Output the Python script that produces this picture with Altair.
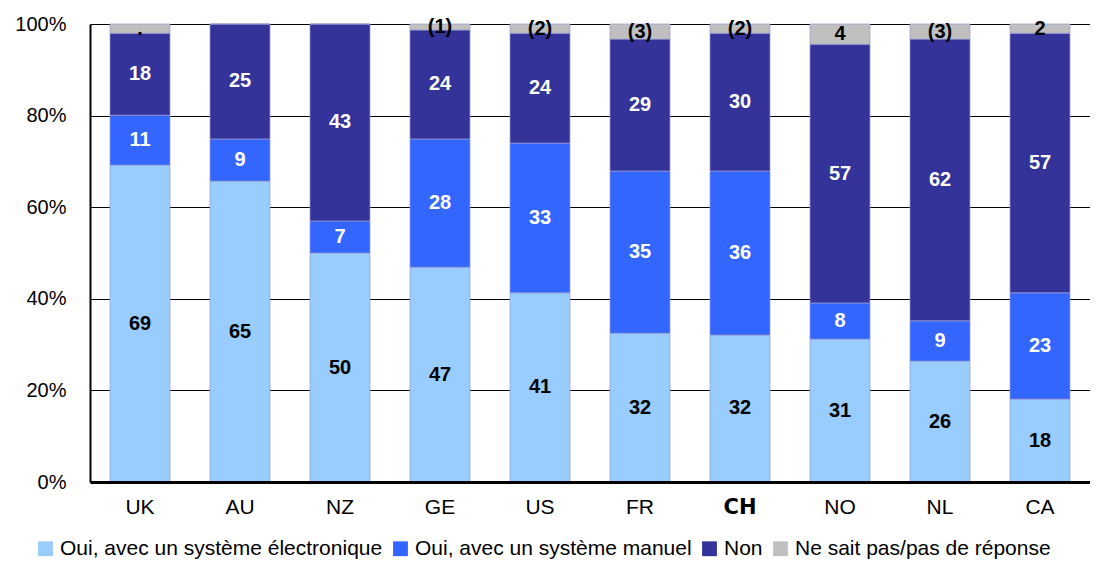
import altair as alt
import pandas as pd

countries = ["UK", "AU", "NZ", "GE", "US", "FR", "CH", "NO", "NL", "CA"]
series = ["Oui, avec un système électronique", "Oui, avec un système manuel",
          "Non", "Ne sait pas/pas de réponse"]
colors = ["#99CCFF", "#3366FF", "#333399", "#C0C0C0"]

electronic = [69.2, 65.7, 50.0, 46.9, 41.3, 32.5, 32.1, 31.2, 26.4, 18.1]
manual = [10.9, 9.2, 7.0, 28.0, 32.7, 35.4, 35.8, 7.9, 8.8, 23.2]
non = [17.9, 25.1, 43.0, 23.8, 24.0, 28.8, 30.1, 56.5, 61.5, 56.7]
dk = [2.0, 0.0, 0.0, 1.3, 2.0, 3.3, 2.0, 4.4, 3.3, 2.0]

lab_el = ["69", "65", "50", "47", "41", "32", "32", "31", "26", "18"]
lab_man = ["11", "9", "7", "28", "33", "35", "36", "8", "9", "23"]
lab_non = ["18", "25", "43", "24", "24", "29", "30", "57", "62", "57"]
lab_dk = [".", "", "", "(1)", "(2)", "(3)", "(2)", "4", "(3)", "2"]

rows = []
for i, c in enumerate(countries):
    start = 0.0
    for k, (vals, labs) in enumerate([(electronic, lab_el), (manual, lab_man),
                                      (non, lab_non), (dk, lab_dk)]):
        v = vals[i]
        rows.append({"country": c, "series": series[k], "k": k, "value": v,
                     "mid": start + v / 2, "label": labs[i]})
        start += v
df = pd.DataFrame(rows)

FONT = "Liberation Sans"

cond_font = {"condition": {"test": "datum.value == 'CH'", "value": "DejaVu Sans"}, "value": FONT}
cond_weight = {"condition": {"test": "datum.value == 'CH'", "value": "bold"}, "value": "normal"}

xenc = alt.X("country:N", sort=countries,
             scale=alt.Scale(paddingInner=0.4, paddingOuter=0.2),
             axis=alt.Axis(title=None, labelAngle=0, ticks=False, domainColor="black",
                           domainWidth=3, labelFontSize=21, labelPadding=14,
                           labelColor="black", labelFont=cond_font,
                           labelFontWeight=cond_weight, zindex=1))

bars = alt.Chart(df).mark_bar(stroke="#9a9ad0", strokeWidth=0.7).encode(
    x=xenc,
    y=alt.Y("value:Q", stack="zero", scale=alt.Scale(domain=[0, 100], nice=False),
            axis=alt.Axis(values=[0, 20, 40, 60, 80, 100], labelExpr="datum.value + '%'",
                          title=None, ticks=False, grid=True, gridColor="black",
                          gridWidth=1.2, domainColor="black", domainWidth=2,
                          labelPadding=24, labelFontSize=20, labelFont=FONT,
                          labelColor="black")),
    color=alt.Color("series:N", scale=alt.Scale(domain=series, range=colors),
                    legend=alt.Legend(orient="none", legendX=-55, legendY=514,
                                      direction="horizontal", title=None,
                                      symbolType="square", symbolSize=220,
                                      symbolStrokeWidth=0, labelFontSize=21,
                                      labelFont=FONT, labelColor="black",
                                      labelLimit=500, columnPadding=7, labelOffset=4)),
    order=alt.Order("k:Q", sort="ascending"),
)

texts = alt.Chart(df).transform_filter("datum.label != ''").mark_text(
    font=FONT, fontSize=20, fontWeight="bold", baseline="middle", align="center"
).encode(
    x=alt.X("country:N", sort=countries),
    y=alt.Y("mid:Q"),
    text="label:N",
    color=alt.condition("datum.k == 1 || datum.k == 2", alt.value("white"), alt.value("black")),
)

chart = alt.layer(bars, texts).properties(
    width=1000, height=458, autosize="none",
    padding={"left": 82, "top": 16, "right": 0, "bottom": 81},
).configure_view(stroke=None)

chart.save("out.html", embed_options={"renderer": "svg", "actions": False})
